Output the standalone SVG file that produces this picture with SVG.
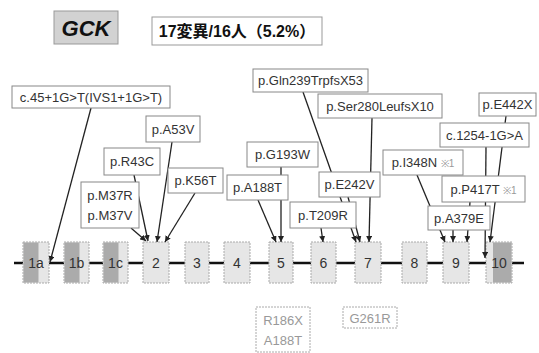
<svg xmlns="http://www.w3.org/2000/svg" width="539" height="353" viewBox="0 0 539 353">
<defs>
<marker id="arr" markerWidth="6" markerHeight="6" refX="6" refY="3" orient="auto" markerUnits="userSpaceOnUse">
<path d="M0,0 L6,3 L0,6 z" fill="#222"/>
</marker>
<style>
.lb rect{fill:#fff;stroke:#888;stroke-width:1}
.lb text,.t{font-family:"Liberation Sans",Arial,sans-serif;font-size:13px;fill:#333;text-anchor:middle}
.ex rect.l{fill:#e6e6e6;stroke:#aaa;stroke-width:1;stroke-dasharray:2 1}
.ex rect.d{fill:#ababab;stroke:none}
.ex text{font-family:"Liberation Sans",Arial,sans-serif;font-size:14px;fill:#333;text-anchor:middle}
.cn line{stroke:#222;stroke-width:1.3;marker-end:url(#arr)}
.gr rect{fill:#fff;stroke:#aaa;stroke-width:1;stroke-dasharray:2 1}
.gr text{font-family:"Liberation Sans",Arial,sans-serif;font-size:13px;fill:#999;text-anchor:middle}
.note{font-size:10px;fill:#999}
</style>
</defs>
<rect width="539" height="353" fill="#fff"/>
<g id="title">
<rect x="54" y="11" width="64" height="33" fill="#d2d2d2" stroke="#999"/>
<text x="86" y="36" font-family="'Liberation Sans',Arial,sans-serif" font-size="22" font-weight="bold" font-style="italic" fill="#111" text-anchor="middle">GCK</text>
</g>
<g id="summary">
<rect x="152" y="17" width="170" height="28" fill="#fff" stroke="#999"/>
<text x="237" y="37" font-family="'Liberation Sans','Noto Sans CJK JP',sans-serif" font-size="16" font-weight="bold" fill="#111" text-anchor="middle">17変異/16人（5.2%）</text>
</g>
<g id="backbone">
<line x1="14" y1="263" x2="524" y2="263" stroke="#111" stroke-width="2.5"/>
</g>
<g class="ex">
<g id="exon1a"><rect class="l" x="23" y="242" width="26" height="41"/><rect class="d" x="23.5" y="242.5" width="15" height="40"/><text x="36" y="268">1a</text></g>
<g id="exon1b"><rect class="l" x="64" y="242" width="25" height="41"/><rect class="d" x="64.5" y="242.5" width="15" height="40"/><text x="76.5" y="268">1b</text></g>
<g id="exon1c"><rect class="l" x="103" y="242" width="25" height="41"/><rect class="d" x="103.5" y="242.5" width="15" height="40"/><text x="115.5" y="268">1c</text></g>
<g id="exon2"><rect class="l" x="143" y="242" width="26" height="41"/><text x="156" y="268">2</text></g>
<g id="exon3"><rect class="l" x="185" y="242" width="24" height="41"/><text x="197" y="268">3</text></g>
<g id="exon4"><rect class="l" x="224" y="242" width="26" height="41"/><text x="237" y="268">4</text></g>
<g id="exon5"><rect class="l" x="269" y="242" width="24" height="41"/><text x="281" y="268">5</text></g>
<g id="exon6"><rect class="l" x="311" y="242" width="25" height="41"/><text x="323.5" y="268">6</text></g>
<g id="exon7"><rect class="l" x="355" y="242" width="26" height="41"/><text x="368" y="268">7</text></g>
<g id="exon8"><rect class="l" x="402" y="242" width="25" height="41"/><text x="414.5" y="268">8</text></g>
<g id="exon9"><rect class="l" x="443" y="242" width="26" height="41"/><text x="456" y="268">9</text></g>
<g id="exon10"><rect class="l" x="486" y="242" width="26" height="41"/><rect class="d" x="493" y="242.5" width="18.5" height="40"/><text x="499" y="268">10</text></g>
</g>
<g id="connectors" class="cn">
<line x1="91" y1="108" x2="50" y2="262"/>
<line x1="131" y1="228" x2="146" y2="241"/>
<line x1="134" y1="175" x2="148" y2="241"/>
<line x1="172" y1="142" x2="157" y2="242"/>
<line x1="195" y1="193" x2="165" y2="242"/>
<line x1="281" y1="167" x2="281" y2="242"/>
<line x1="258" y1="200" x2="276" y2="242"/>
<line x1="321" y1="228" x2="323" y2="242"/>
<line x1="303" y1="92" x2="356" y2="242"/>
<line x1="348" y1="197" x2="360" y2="242"/>
<line x1="372" y1="118" x2="369" y2="242"/>
<line x1="417" y1="175" x2="445" y2="242"/>
<line x1="453" y1="230" x2="453" y2="242"/>
<line x1="470" y1="202" x2="467" y2="242"/>
<line x1="486" y1="147" x2="485" y2="258"/>
<line x1="506" y1="116" x2="490" y2="242"/>
</g>
<g class="lb">
<g id="c45"><rect x="12" y="86" width="158" height="22"/><text x="91" y="101.5">c.45+1G&gt;T(IVS1+1G&gt;T)</text></g>
<g id="gln239"><rect x="253" y="69" width="115" height="23"/><text x="310.5" y="85">p.Gln239TrpfsX53</text></g>
<g id="ser280"><rect x="318" y="94" width="124" height="24"/><text x="380" y="110.5">p.Ser280LeufsX10</text></g>
<g id="e442x"><rect x="479" y="93" width="57" height="23"/><text x="507.5" y="109">p.E442X</text></g>
<g id="c1254"><rect x="440" y="123" width="89" height="24"/><text x="484.5" y="139.5">c.1254-1G&gt;A</text></g>
<g id="i348n"><rect x="383" y="150" width="80" height="25"/><text x="423" y="167">p.I348N <tspan class="note">※1</tspan></text></g>
<g id="p417t"><rect x="442" y="176" width="83" height="26"/><text x="483.5" y="194">p.P417T <tspan class="note">※1</tspan></text></g>
<g id="a379e"><rect x="428" y="206" width="62" height="24"/><text x="459" y="222.5">p.A379E</text></g>
<g id="e242v"><rect x="319" y="172" width="61" height="25"/><text x="349.5" y="189">p.E242V</text></g>
<g id="t209r"><rect x="290" y="202" width="66" height="26"/><text x="323" y="219.5">p.T209R</text></g>
<g id="g193w"><rect x="247" y="142" width="71" height="25"/><text x="282.5" y="159">p.G193W</text></g>
<g id="a188t"><rect x="227" y="175" width="61" height="25"/><text x="257.5" y="192">p.A188T</text></g>
<g id="k56t"><rect x="168" y="168" width="55" height="25"/><text x="195.5" y="185">p.K56T</text></g>
<g id="a53v"><rect x="146" y="116" width="54" height="26"/><text x="173" y="133.5">p.A53V</text></g>
<g id="r43c"><rect x="104" y="148" width="56" height="27"/><text x="132" y="166">p.R43C</text></g>
<g id="m37"><rect x="81" y="182" width="58" height="46"/><text x="110" y="200" font-size="14">p.M37R</text><text x="110" y="220" font-size="14">p.M37V</text></g>
</g>
<g class="gr">
<g id="r186x"><rect x="256" y="307" width="54" height="45"/><text x="283" y="325">R186X</text><text x="283" y="345">A188T</text></g>
<g id="g261r"><rect x="343" y="307" width="54" height="21"/><text x="370" y="322.5">G261R</text></g>
</g>
</svg>
